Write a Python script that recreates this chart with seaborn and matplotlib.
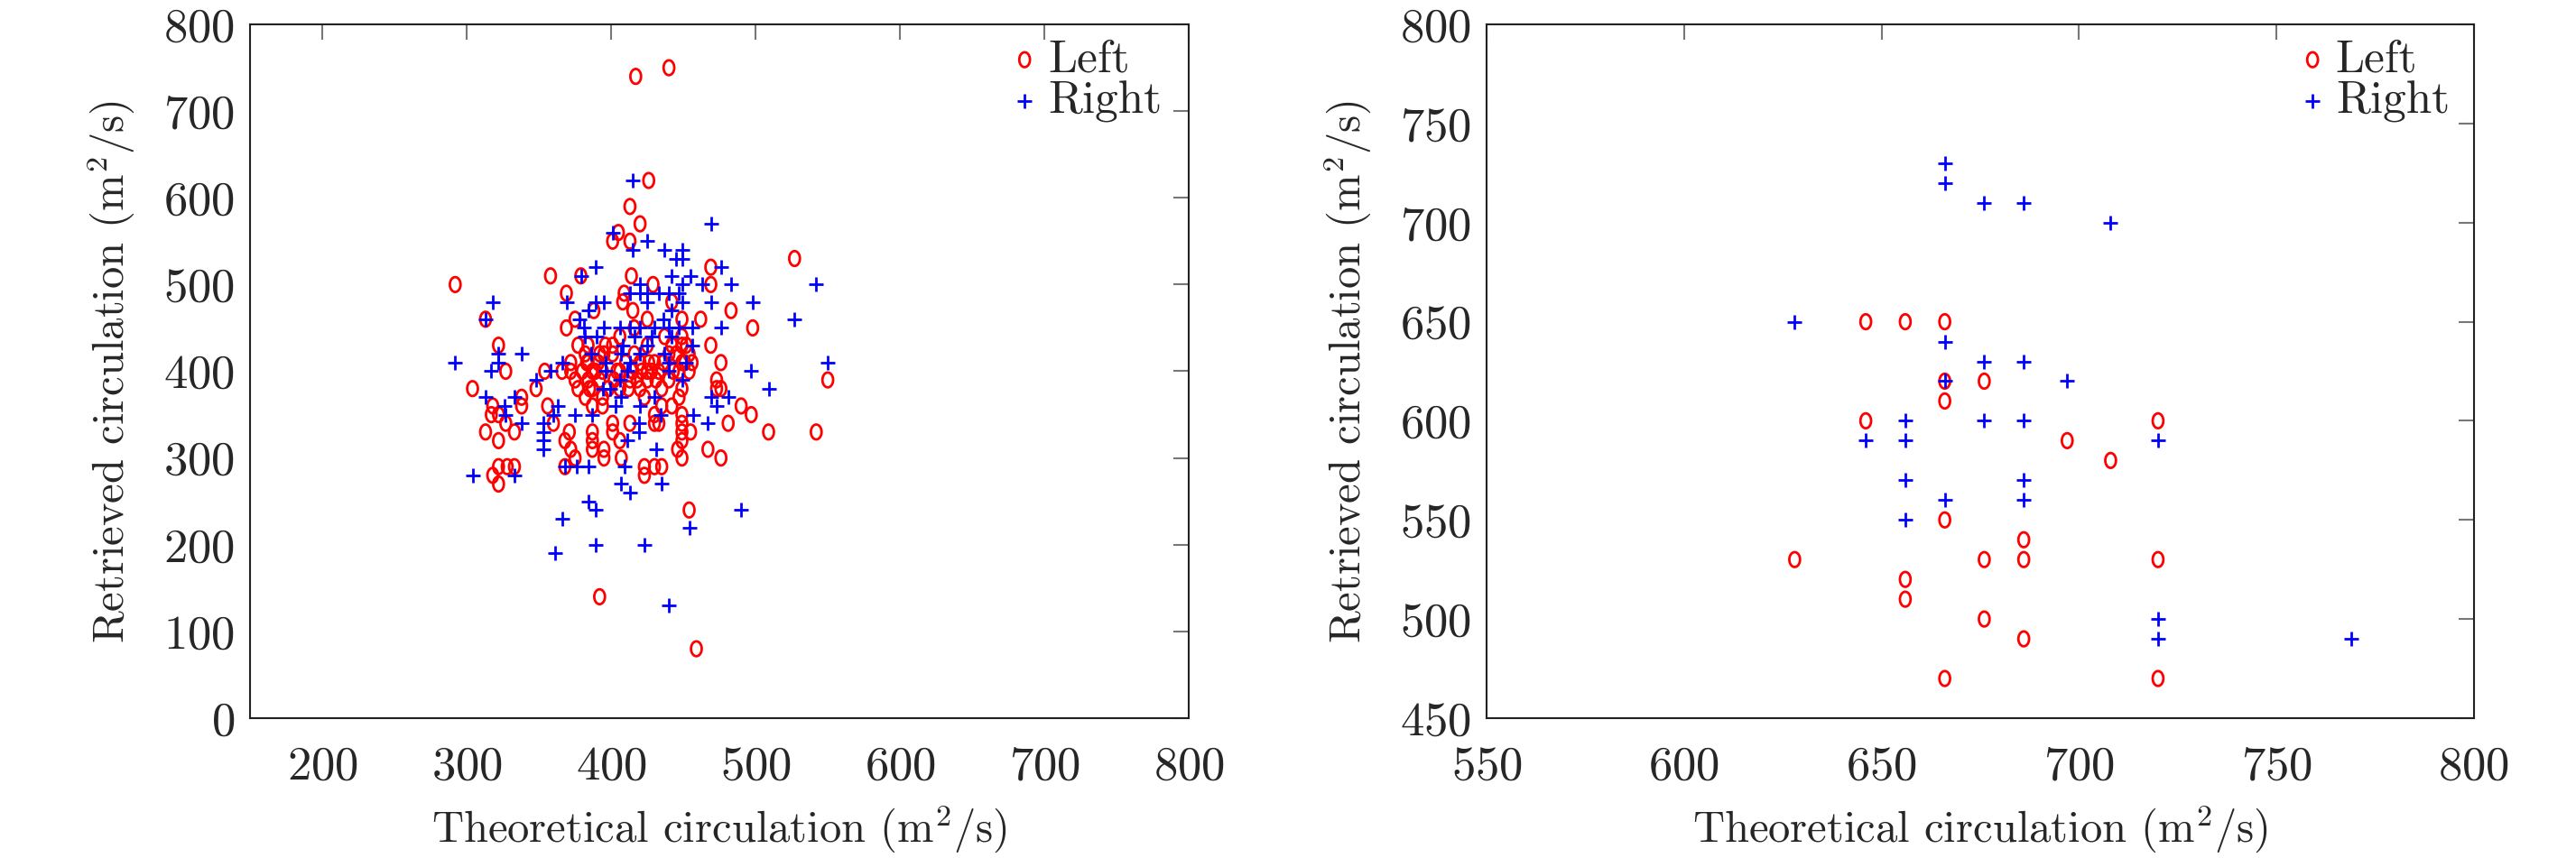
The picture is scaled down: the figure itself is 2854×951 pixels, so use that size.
import numpy as np
import pandas as pd
import matplotlib
matplotlib.use("Agg")
import matplotlib.pyplot as plt
from matplotlib.path import Path
import seaborn as sns

# Left panel: theoretical vs retrieved circulation (m^2/s)
left_red_x = [417, 440, 426, 413, 420, 405, 401, 413, 527, 469, 358, 379, 414, 292, 429, 469, 409, 369,
              408, 442, 483, 415, 388, 313, 375, 425, 449, 462, 369, 498, 416, 406, 437, 449, 322, 377,
              384, 396, 401, 425, 442, 449, 469, 382, 392, 401, 445, 454, 476, 372, 384, 420, 430, 449,
              456, 327, 354, 366, 372, 387, 406, 415, 425, 433, 447, 454, 473, 550, 375, 392, 413, 425,
              440, 304, 348, 377, 387, 406, 420, 435, 449, 473, 476, 338, 382, 394, 423, 447, 318, 338,
              356, 387, 394, 435, 442, 490, 317, 322, 430, 449, 497, 327, 360, 401, 413, 430, 433, 449,
              481, 313, 333, 371, 387, 401, 449, 455, 509, 542, 322, 368, 387, 406, 449, 372, 387, 395,
              446, 467, 375, 395, 407, 449, 476, 322, 328, 333, 368, 423, 430, 435, 318, 423, 322, 454,
              392, 459, 380, 394, 410, 418, 384, 398, 428, 436, 452, 440, 412, 395, 383, 389, 402, 421,
              426, 431, 385, 391, 404, 416, 443, 451]
left_red_y = [740, 750, 620, 590, 570, 560, 550, 550, 530, 520, 510, 510, 510, 500, 500, 500, 490, 490,
              480, 480, 470, 470, 470, 460, 460, 460, 460, 460, 450, 450, 450, 440, 440, 440, 430, 430,
              430, 430, 430, 430, 430, 430, 430, 420, 420, 420, 420, 420, 410, 410, 410, 410, 410, 410,
              410, 400, 400, 400, 400, 400, 400, 400, 400, 400, 400, 400, 390, 390, 390, 390, 390, 390,
              390, 380, 380, 380, 380, 380, 380, 380, 380, 380, 380, 370, 370, 370, 370, 370, 360, 360,
              360, 360, 360, 360, 360, 360, 350, 350, 350, 350, 350, 340, 340, 340, 340, 340, 340, 340,
              340, 330, 330, 330, 330, 330, 330, 330, 330, 330, 320, 320, 320, 320, 320, 310, 310, 310,
              310, 310, 300, 300, 300, 300, 300, 290, 290, 290, 290, 290, 290, 290, 280, 280, 270, 240,
              140, 80, 400, 400, 410, 390, 390, 380, 400, 410, 430, 420, 380, 420, 410, 400, 390, 400,
              410, 390, 380, 410, 400, 420, 400, 410]

left_blue_x = [415, 469, 401, 425, 415, 437, 449, 445, 449, 389, 476, 379, 442, 455, 420, 449, 463, 483,
               542, 413, 420, 425, 433, 440, 447, 318, 369, 389, 395, 425, 449, 469, 498, 384, 442, 313,
               378, 436, 527, 381, 395, 476, 406, 413, 420, 430, 440, 447, 456, 382, 390, 416, 442, 408,
               425, 456, 322, 338, 407, 420, 437, 292, 322, 550, 366, 396, 413, 440, 317, 358, 497, 396,
               411, 440, 348, 406, 449, 509, 394, 313, 333, 469, 481, 407, 430, 326, 363, 420, 473, 327,
               360, 375, 387, 457, 338, 353, 419, 467, 353, 419, 353, 411, 353, 431, 368, 376, 384, 409,
               304, 333, 407, 435, 413, 384, 389, 490, 366, 454, 389, 423, 361, 440, 386, 399, 428, 452,
               403, 434]
left_blue_y = [620, 570, 560, 550, 540, 540, 540, 530, 530, 520, 520, 510, 510, 510, 500, 500, 500, 500,
               500, 490, 490, 490, 490, 490, 490, 480, 480, 480, 480, 480, 480, 480, 480, 470, 470, 460,
               460, 460, 460, 450, 450, 450, 450, 450, 450, 450, 450, 450, 450, 440, 440, 440, 440, 430,
               430, 430, 420, 420, 420, 420, 420, 410, 410, 410, 410, 410, 410, 410, 400, 400, 400, 400,
               400, 400, 390, 390, 390, 380, 380, 370, 370, 370, 370, 370, 370, 360, 360, 360, 360, 350,
               350, 350, 350, 350, 340, 340, 340, 340, 330, 330, 320, 320, 310, 310, 290, 290, 290, 290,
               280, 280, 270, 270, 260, 250, 240, 240, 230, 220, 200, 200, 190, 130, 420, 380, 440, 410,
               360, 350]

# Right panel
right_red_x = [646, 656, 666, 666, 676, 666, 646, 720, 697, 708, 666, 686, 628, 676, 686, 720, 656, 656,
               676, 686, 666, 720]
right_red_y = [650, 650, 650, 620, 620, 610, 600, 600, 590, 580, 550, 540, 530, 530, 530, 530, 520, 510,
               500, 490, 470, 470]

right_blue_x = [666, 666, 676, 686, 708, 628, 666, 676, 686, 697, 666, 656, 676, 686, 646, 656, 720, 656,
                686, 666, 686, 656, 720, 720, 769]
right_blue_y = [730, 720, 710, 710, 700, 650, 640, 630, 630, 620, 620, 600, 600, 600, 590, 590, 590, 570,
                570, 560, 560, 550, 500, 490, 490]

x_label = "Theoretical circulation (m$^2$/s)"
y_label = "Retrieved circulation (m$^2$/s)"

sns.set_theme(style="white")
plt.rcParams["font.family"] = ["cmr10", "DejaVu Serif"]
plt.rcParams["mathtext.fontset"] = "cm"
plt.rcParams["axes.formatter.use_mathtext"] = True
plt.rcParams["axes.unicode_minus"] = False

# tall open ellipse, like the "0"-shaped circles in the original
t = np.linspace(0, 2 * np.pi, 60)
ellipse = Path(np.column_stack([0.36 * np.cos(t), 0.5 * np.sin(t)]), closed=True)

fig = plt.figure(figsize=(28.54, 9.51), dpi=100)
ax1 = fig.add_axes([0.0971, 0.163, 0.3644, 0.8086])
ax2 = fig.add_axes([0.5771, 0.163, 0.3833, 0.8086])

panels = [
    (ax1, left_red_x, left_red_y, left_blue_x, left_blue_y, (150, 800), (0, 800),
     np.arange(200, 801, 100), np.arange(0, 801, 100), 0.976),
    (ax2, right_red_x, right_red_y, right_blue_x, right_blue_y, (550, 800), (450, 800),
     np.arange(550, 801, 50), np.arange(450, 801, 50), 0.98),
]

for ax, rx, ry, bx, by, xlim, ylim, xt, yt, leg_x in panels:
    sns.scatterplot(x=rx, y=ry, ax=ax, marker=ellipse, s=140, color="red",
                    facecolor="none", edgecolor="red", linewidth=2.0, label="Left")
    sns.scatterplot(x=bx, y=by, ax=ax, marker="+", s=120, color="blue",
                    linewidth=2.0, label="Right")
    ax.set_xlim(*xlim)
    ax.set_ylim(*ylim)
    ax.set_xticks(xt)
    ax.set_yticks(yt)
    ax.set_xlabel(x_label, fontsize=35, labelpad=12)
    ax.set_ylabel(y_label, fontsize=35, labelpad=22)
    ax.tick_params(axis="both", which="major", direction="in", length=12, width=1.5,
                   color="#777777", labelsize=38, top=True, right=True)
    ax.tick_params(axis="x", pad=22)
    ax.tick_params(axis="y", pad=12)
    for sp in ax.spines.values():
        sp.set_color("#222222")
        sp.set_linewidth(1.5)
    ax.legend(loc="upper right", bbox_to_anchor=(leg_x, 0.985), frameon=False, fontsize=37,
              handletextpad=0.15, handlelength=0.7, labelspacing=0.0, borderaxespad=0.0,
              borderpad=0.1)

fig.savefig("out.png", dpi=100)
